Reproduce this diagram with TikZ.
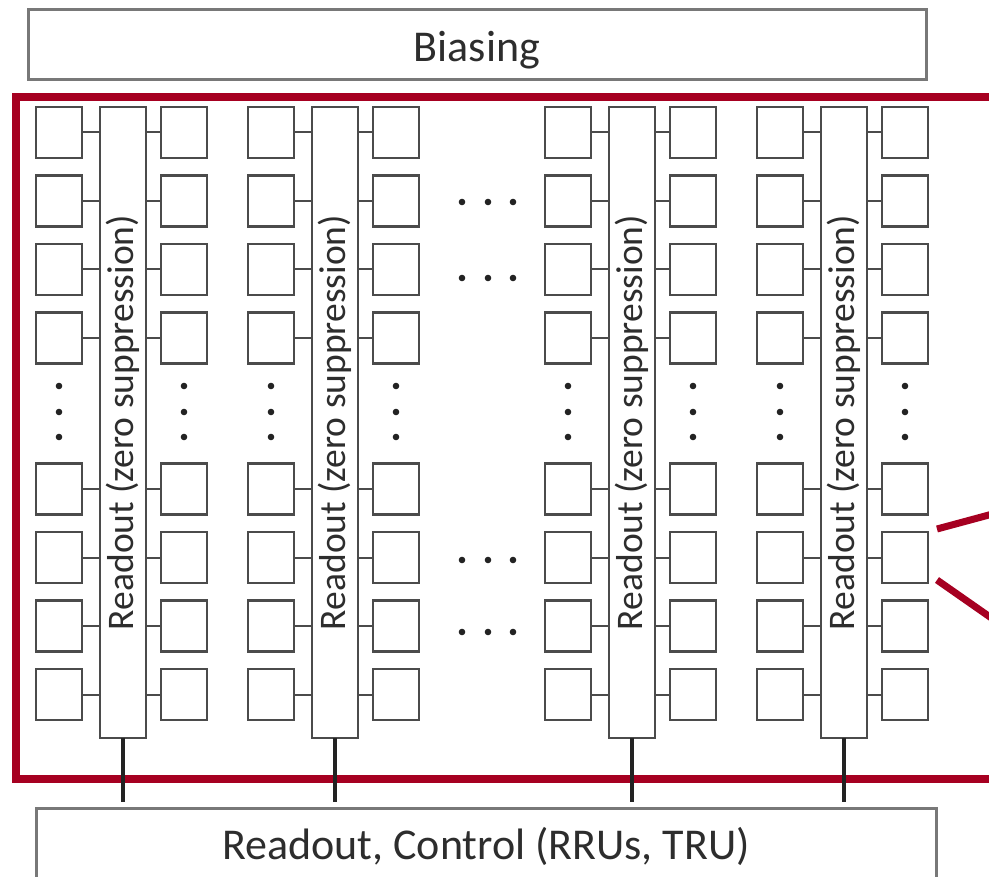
\documentclass[tikz,border=0pt]{standalone}
\usepackage{fontspec}
\setmainfont{Carlito}
\definecolor{framered}{RGB}{166,0,33}
\definecolor{edgegray}{RGB}{75,75,75}
\definecolor{boxgray}{RGB}{120,120,120}
\definecolor{txtgray}{RGB}{45,45,45}
\definecolor{dotgray}{RGB}{35,35,35}
\begin{document}
\begin{tikzpicture}[x=1pt,y=-1pt,
  cell/.style={draw=edgegray,line width=2.6pt,fill=white,minimum width=46pt,
    minimum height=51pt,inner sep=0pt,outer sep=0pt,anchor=north west},
  rbar/.style={draw=edgegray,line width=2.6pt,fill=white,minimum width=46pt,
    minimum height=631pt,inner sep=0pt,outer sep=0pt,anchor=north west},
  widebox/.style={draw=boxgray,line width=3pt,inner sep=0pt,outer sep=0pt,anchor=north west},
  link/.style={draw=edgegray,line width=2pt},
  bus/.style={draw=dotgray,line width=4.5pt},
  callout/.style={draw=framered,line width=7pt},
  bartext/.style={rotate=90,text=txtgray,font=\fontsize{37.5}{40}\selectfont},
  boxtext/.style={text=txtgray,font=\fontsize{44}{48}\selectfont},
  dotmark/.style={fill=dotgray}]
\useasboundingbox (0,0) rectangle (989,877);
\clip (0,0) rectangle (989,877);

% biasing and readout/control boxes
\node[widebox,minimum width=898pt,minimum height=70pt] (bias) at (28,10) {};
\node[boxtext] at (477,50) {Biasing};
\node[widebox,minimum width=900pt,minimum height=90pt] (ctrl) at (36,808) {};
\node[boxtext] at (486,846) {Readout, Control (RRUs, TRU)};

% red frame of the detector area
\draw[framered,line width=7.5pt] (16,97) rectangle (1010,779);

% four readout columns with their pixel cells
\foreach \g/\gx in {1/36,2/248,3/545,4/757}{
  \node[rbar] (B\g) at (\gx+64,107) {};
  \node[bartext] at (B\g.center) {Readout (zero suppression)};
  \foreach \r/\yy in {1/107,2/175.5,3/244,4/312.5,5/463.5,6/532,7/600.5,8/669}{
    \node[cell] (L\g-\r) at (\gx,\yy) {};
    \node[cell] (R\g-\r) at (\gx+125,\yy) {};
    \draw[link] (L\g-\r.east) -- (L\g-\r.east -| B\g.west);
    \draw[link] (B\g.east |- R\g-\r.west) -- (R\g-\r.west);
  }
  % vertical ellipsis between the cell blocks
  \foreach \yy in {386,412,437}{
    \fill[dotmark] (\gx+23,\yy) circle (3.3pt);
    \fill[dotmark] (\gx+148,\yy) circle (3.3pt);
  }
  % link to the readout/control board
  \draw[bus] (B\g.south) -- ([yshift=6pt]B\g.south |- ctrl.north);
}

% horizontal ellipsis between the column groups
\foreach \yy in {202,278,560,632}{
  \foreach \xx in {462,488,513}{
    \fill[dotmark] (\xx,\yy) circle (3.3pt);
  }
}

% callout lines from one cell
\coordinate (ca) at ([xshift=9pt,yshift=3pt]R4-6.north east);
\coordinate (cb) at ([xshift=9pt,yshift=3pt]R4-6.south east);
\coordinate (caend) at (1000,512);
\coordinate (cbend) at (1000,624);
\draw[callout] (ca) -- (caend);
\draw[callout] (cb) -- (cbend);
\end{tikzpicture}
\end{document}
